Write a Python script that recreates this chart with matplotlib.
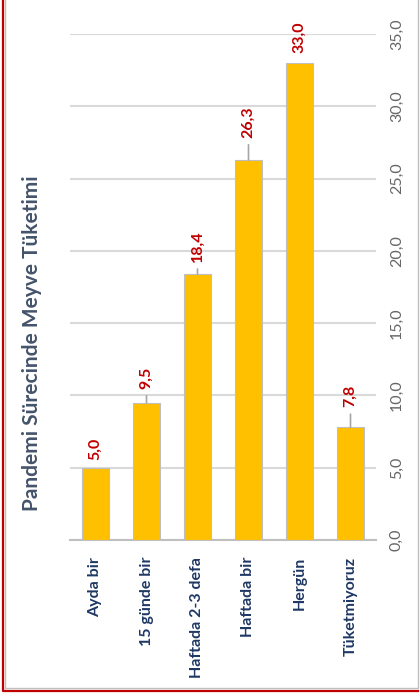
import matplotlib
matplotlib.use('Agg')
import matplotlib.pyplot as plt
from matplotlib.lines import Line2D

#%% Data
categories = ['Ayda bir', '15 günde bir', 'Haftada 2-3 defa', 'Haftada bir', 'Hergün', 'Tüketmiyoruz']
values     = [5.0, 9.5, 18.4, 26.3, 33.0, 7.8]
title      = 'Pandemi Sürecinde Meyve Tüketimi'

#%% Style
plt.rcParams['font.family'] = ['Lato', 'DejaVu Sans']
label_offset = [5.8, 10.0, 8.6, 15.8, 7.2, 14.4]   # points above bar
leader       = [False, True, True, True, False, True]

#%% Figure
fig = plt.figure(figsize=(4.2, 6.98), dpi=100)
ax = fig.add_axes([70/420, 1-540/698, 306/420, 506/698])

x = range(len(categories))
ax.bar(x, values, width=0.53, color='#FFC000', edgecolor='#BFBFBF', linewidth=0.8, zorder=3)

ax.set_xlim(-0.5, len(categories)-0.5)
ax.set_ylim(0, 35)
ax.set_yticks(range(0, 36, 5))
ax.set_yticklabels([('%.1f' % v).replace('.', ',') for v in range(0, 36, 5)],
                   rotation=90, va='center', color='#666666', fontsize=11.5)
ax.yaxis.tick_right()
ax.tick_params(axis='y', length=0, pad=10)
ax.set_xticks(list(x))
ax.set_xticklabels(categories, rotation=90, color='#1F3864', fontsize=11.5, fontweight='bold')
ax.tick_params(axis='x', length=0, pad=12)

ax.grid(axis='y', color='#D9D9D9', linewidth=1.5, zorder=0)
for s in ['top', 'right', 'left']:
    ax.spines[s].set_visible(False)
ax.spines['bottom'].set_color('#BFBFBF')
ax.spines['bottom'].set_linewidth(1.5)

#%% Value labels
for i, v in enumerate(values):
    arrow = dict(arrowstyle='-', color='#A5A5A5', lw=1.2, shrinkA=3, shrinkB=0) if leader[i] else None
    ax.annotate(('%.1f' % v).replace('.', ','), xy=(i, v), xytext=(0, label_offset[i]),
                textcoords='offset points', rotation=90, ha='center', va='bottom',
                color='#C00000', fontsize=11.5, fontweight='bold', arrowprops=arrow, zorder=4)

#%% Title
fig.text(32/420, 1-343/698, title, rotation=90, ha='center', va='center',
         color='#44546A', fontsize=15, fontweight='bold')

#%% Border
fig.add_artist(Line2D([5/420, 418/420, 418/420], [1-688/698, 1-688/698, 1.0], color='#BFBFBF', lw=1.0))
fig.add_artist(Line2D([5/420, 5/420], [1-688/698, 1.0], color='#BFBFBF', lw=1.0))
fig.add_artist(Line2D([3/420, 3/420, 418/420], [1.0, 1-690.5/698, 1-690.5/698], color='#C00000', lw=1.6))

fig.savefig('out.png', dpi=100)
